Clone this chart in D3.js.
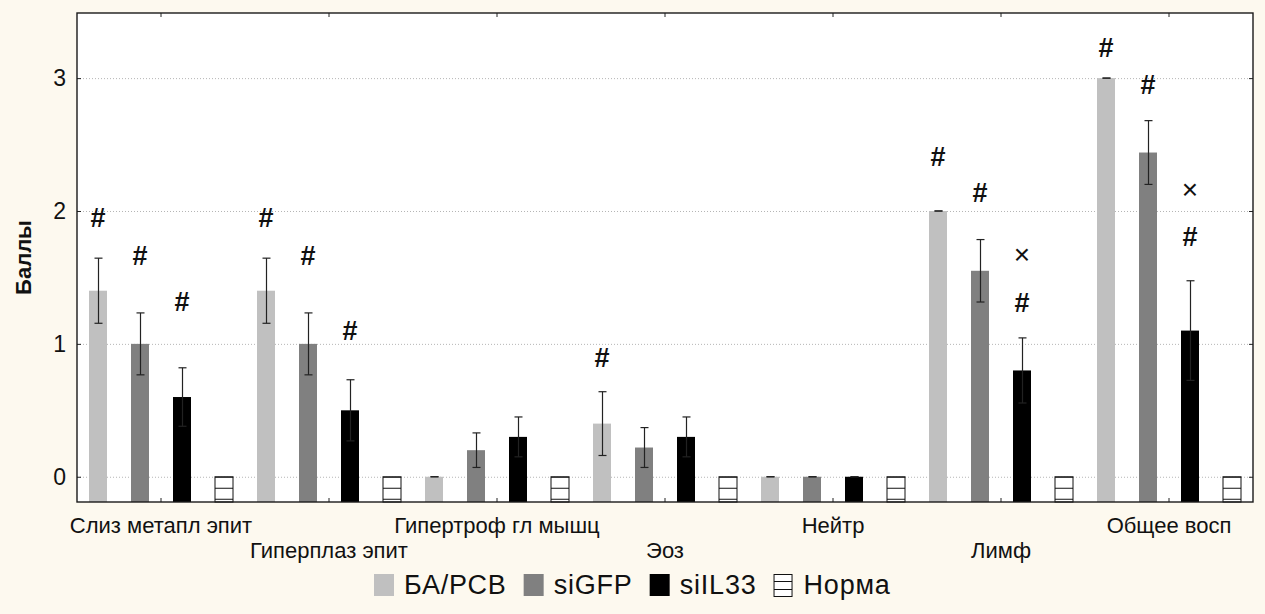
<!DOCTYPE html>
<html>
<head>
<meta charset="utf-8">
<script src="https://cdn.jsdelivr.net/npm/d3@7"></script>
<style>
  body { margin: 0; background: #fdf9ef; }
  svg { display: block; font-family: "Liberation Sans", Arial, sans-serif; }
</style>
</head>
<body>
<svg id="chart" width="1265" height="614"></svg>
<script>
// --- data ---
const categories = ["Слиз метапл эпит", "Гиперплаз эпит", "Гипертроф гл мышц", "Эоз", "Нейтр", "Лимф", "Общее восп"];
const seriesNames = ["БА/РСВ", "siGFP", "siIL33", "Норма"];

const baMeans     = [1.4, 1.4, 0.0, 0.4, 0.0, 2.0, 3.0];
const baErr       = [0.245, 0.245, 0.0, 0.24, 0.0, 0.0, 0.0];
const sigfpMeans  = [1.0, 1.0, 0.2, 0.22, 0.0, 1.55, 2.44];
const sigfpErr    = [0.233, 0.233, 0.13, 0.15, 0.0, 0.235, 0.24];
const siil33Means = [0.6, 0.5, 0.3, 0.3, 0.0, 0.8, 1.1];
const siil33Err   = [0.22, 0.23, 0.15, 0.15, 0.0, 0.245, 0.375];
const normaMeans  = [0, 0, 0, 0, 0, 0, 0];

const yTicks = [0, 1, 2, 3];

// significance marks: category index, series, symbol, level in score units
const marks = [
  { c: 0, s: "БА/РСВ", t: "#", v: 1.95 },
  { c: 0, s: "siGFP",  t: "#", v: 1.67 },
  { c: 0, s: "siIL33", t: "#", v: 1.32 },
  { c: 1, s: "БА/РСВ", t: "#", v: 1.95 },
  { c: 1, s: "siGFP",  t: "#", v: 1.67 },
  { c: 1, s: "siIL33", t: "#", v: 1.10 },
  { c: 3, s: "БА/РСВ", t: "#", v: 0.90 },
  { c: 5, s: "БА/РСВ", t: "#", v: 2.41 },
  { c: 5, s: "siGFP",  t: "#", v: 2.14 },
  { c: 5, s: "siIL33", t: "×", v: 1.67 },
  { c: 5, s: "siIL33", t: "#", v: 1.31 },
  { c: 6, s: "БА/РСВ", t: "#", v: 3.23 },
  { c: 6, s: "siGFP",  t: "#", v: 2.95 },
  { c: 6, s: "siIL33", t: "×", v: 2.16 },
  { c: 6, s: "siIL33", t: "#", v: 1.81 },
];

const seriesData = [
  { name: "БА/РСВ", means: baMeans, err: baErr, fill: "#c0c0c0" },
  { name: "siGFP",  means: sigfpMeans, err: sigfpErr, fill: "#808080" },
  { name: "siIL33", means: siil33Means, err: siil33Err, fill: "#000000" },
  { name: "Норма",  means: normaMeans, err: null, fill: "url(#hatch)" },
];

// --- layout ---
const svg = d3.select("#chart");
const plotL = 77, plotR = 1253, plotT = 13, plotB = 502;

const x0 = d3.scaleBand().domain(categories).range([plotL, plotR]);
const x1 = d3.scaleBand().domain(seriesNames).range([0, x0.bandwidth()])
  .paddingInner(24 / 42).paddingOuter(12 / 42);
const y = d3.scaleLinear().domain([-0.19, 3.49]).range([plotB, plotT]);

const defs = svg.append("defs");
const pat = defs.append("pattern")
  .attr("id", "hatch")
  .attr("patternUnits", "userSpaceOnUse")
  .attr("width", 40).attr("height", 11)
  .attr("y", y(0));
pat.append("rect").attr("width", 40).attr("height", 11).attr("fill", "#fff");
pat.append("line").attr("x1", 0).attr("x2", 40).attr("y1", 0.5).attr("y2", 0.5)
  .attr("stroke", "#111").attr("stroke-width", 1);

// plot background
svg.append("rect")
  .attr("x", plotL).attr("y", plotT)
  .attr("width", plotR - plotL).attr("height", plotB - plotT)
  .attr("fill", "#fff");

// dotted gridlines
svg.append("g").selectAll("line").data(yTicks).join("line")
  .attr("x1", plotL).attr("x2", plotR)
  .attr("y1", (d) => y(d) + 0.5).attr("y2", (d) => y(d) + 0.5)
  .attr("stroke", "#b5b5b5").attr("stroke-dasharray", "1,2");

// bars
const groups = svg.append("g").selectAll("g").data(seriesData).join("g");
groups.selectAll("rect")
  .data((s) => s.means.map((v, i) => ({ s, v, i })))
  .join("rect")
  .attr("x", (d) => x0(categories[d.i]) + x1(d.s.name))
  .attr("width", x1.bandwidth())
  .attr("y", (d) => y(d.v))
  .attr("height", (d) => plotB - y(d.v))
  .attr("fill", (d) => d.s.fill)
  .attr("stroke", (d) => (d.s.err ? "none" : "#111"))
  .attr("stroke-width", 1);

// error bars
const errData = [];
seriesData.forEach((s) => {
  if (!s.err) return;
  s.means.forEach((v, i) => errData.push({ s, v, e: s.err[i], i }));
});
const cx = (d) => Math.round(x0(categories[d.i]) + x1(d.s.name) + x1.bandwidth() / 2) + 0.5;
const eg = svg.append("g").attr("stroke", "#222").attr("stroke-width", 1.2);
eg.selectAll(".stem").data(errData).join("line")
  .attr("x1", cx).attr("x2", cx)
  .attr("y1", (d) => y(d.v + d.e)).attr("y2", (d) => y(d.v - d.e));
eg.selectAll(".capT").data(errData).join("line")
  .attr("x1", (d) => cx(d) - 4).attr("x2", (d) => cx(d) + 4)
  .attr("y1", (d) => y(d.v + d.e)).attr("y2", (d) => y(d.v + d.e));
eg.selectAll(".capB").data(errData).join("line")
  .attr("x1", (d) => cx(d) - 4).attr("x2", (d) => cx(d) + 4)
  .attr("y1", (d) => y(d.v - d.e)).attr("y2", (d) => y(d.v - d.e));

// significance symbols
svg.append("g").selectAll("text").data(marks).join("text")
  .attr("x", (d) => x0(categories[d.c]) + x1(d.s) + x1.bandwidth() / 2)
  .attr("y", (d) => y(d.v))
  .attr("dy", (d) => (d.t === "#" ? "0.36em" : "0.33em"))
  .attr("text-anchor", "middle")
  .attr("font-size", (d) => (d.t === "#" ? 27 : 28))
  .attr("font-weight", (d) => (d.t === "#" ? "bold" : "normal"))
  .attr("fill", "#111")
  .text((d) => d.t);

// axes (inward ticks)
const axL = svg.append("g").attr("transform", `translate(${plotL},0)`)
  .call(d3.axisLeft(y).tickValues(yTicks).tickSize(-4).tickPadding(11).tickFormat(d3.format("d")));
axL.select(".domain").remove();
axL.selectAll("text").attr("font-size", 23).attr("fill", "#111");
axL.selectAll("line").attr("stroke", "#222");

const axR = svg.append("g").attr("transform", `translate(${plotR},0)`)
  .call(d3.axisRight(y).tickValues(yTicks).tickSize(-4).tickFormat(""));
axR.select(".domain").remove();
axR.selectAll("line").attr("stroke", "#222");

const axT = svg.append("g").attr("transform", `translate(0,${plotT})`)
  .call(d3.axisTop(x0).tickSize(-4).tickFormat(""));
axT.select(".domain").remove();
axT.selectAll("line").attr("stroke", "#222");

const axB = svg.append("g").attr("transform", `translate(0,${plotB})`)
  .call(d3.axisBottom(x0).tickSize(-4));
axB.select(".domain").remove();
axB.selectAll("line").attr("stroke", "#222");
axB.selectAll("text")
  .attr("y", (d, i) => (i % 2 ? 56 : 31))
  .attr("dy", null)
  .attr("font-size", 22)
  .attr("fill", "#111");

// frame
svg.append("rect")
  .attr("x", plotL).attr("y", plotT)
  .attr("width", plotR - plotL).attr("height", plotB - plotT)
  .attr("fill", "none").attr("stroke", "#1a1a1a").attr("stroke-width", 1.4);

// y title
svg.append("text")
  .attr("transform", `translate(31,${(plotT + plotB) / 2}) rotate(-90)`)
  .attr("text-anchor", "middle")
  .attr("font-size", 22).attr("font-weight", "bold").attr("fill", "#111")
  .text("Баллы");

// legend
const legend = svg.append("g");
let lx = 0;
seriesData.forEach((s) => {
  const item = legend.append("g").attr("transform", `translate(${lx},0)`);
  if (s.err) {
    item.append("rect").attr("x", 0).attr("y", 574).attr("width", 20).attr("height", 22).attr("fill", s.fill);
  } else {
    item.append("rect").attr("x", 0.5).attr("y", 574.5).attr("width", 18).attr("height", 22)
      .attr("fill", "#fff").attr("stroke", "#111");
    [581.5, 589.5].forEach((ly) =>
      item.append("line").attr("x1", 0.5).attr("x2", 18.5).attr("y1", ly).attr("y2", ly).attr("stroke", "#111"));
  }
  const t = item.append("text").attr("x", 30).attr("y", 594)
    .attr("font-size", 27).attr("letter-spacing", 0.8).attr("fill", "#111").text(s.name);
  lx += 30 + t.node().getComputedTextLength() + 17;
});
const lw = lx - 17;
legend.attr("transform", `translate(${Math.round(632 - lw / 2)},0)`);
</script>
</body>
</html>
